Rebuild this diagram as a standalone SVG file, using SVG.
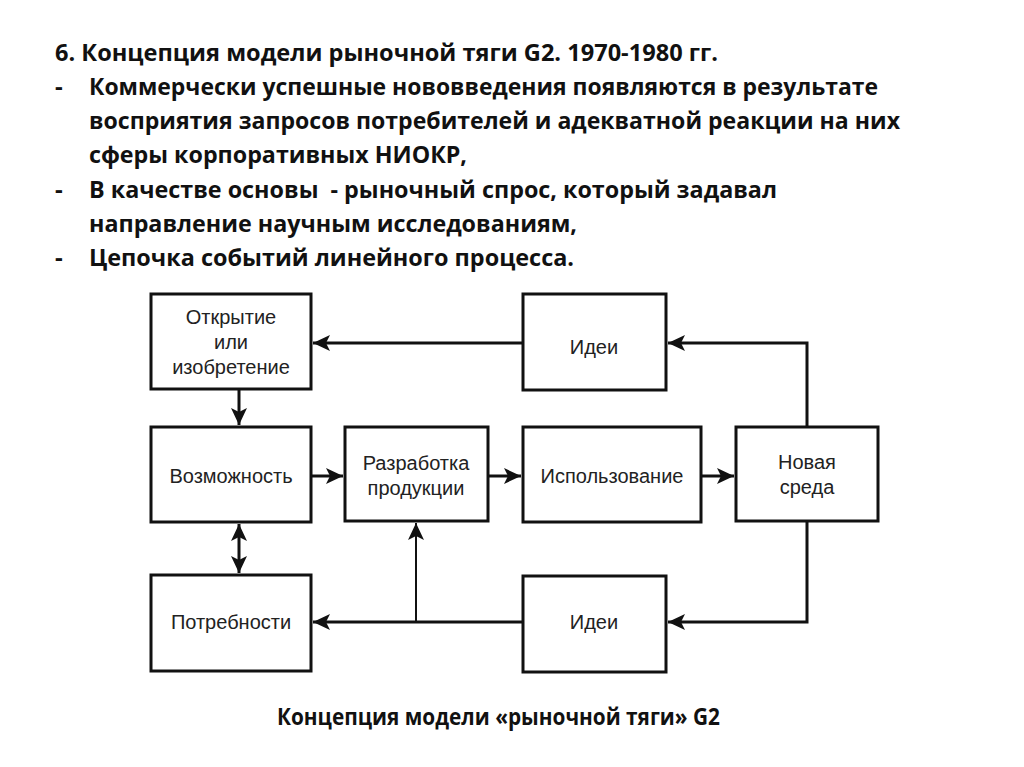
<svg xmlns="http://www.w3.org/2000/svg" width="1024" height="767" viewBox="0 0 1024 767">
<style>
.h{font-family:"Open Sans","Liberation Sans",sans-serif;font-weight:bold;font-size:24px;fill:#111}
.box{fill:#fff;stroke:#111;stroke-width:3}
.t{font-family:"Liberation Sans",Arial,sans-serif;font-size:20px;fill:#222;text-anchor:middle}
.c{fill:none;stroke:#111;stroke-width:3}
.thin{fill:none;stroke:#111;stroke-width:2}
</style>
<defs>
<marker id="ah" markerUnits="userSpaceOnUse" markerWidth="18" markerHeight="18" viewBox="0 0 18 18" refX="17" refY="9" orient="auto">
<path d="M0,1 L17,9 L0,17 L4,9 Z" fill="#111"/>
</marker>
<marker id="as" markerUnits="userSpaceOnUse" markerWidth="18" markerHeight="18" viewBox="0 0 18 18" refX="1" refY="9" orient="auto">
<path d="M18,1 L1,9 L18,17 L14,9 Z" fill="#111"/>
</marker>
</defs>
<rect width="1024" height="767" fill="#fff"/>
<g id="heading">
<text class="h" x="55" y="61" textLength="663" lengthAdjust="spacingAndGlyphs">6. Концепция модели рыночной тяги G2. 1970-1980 гг.</text>
<text class="h" x="55" y="95">-</text>
<text class="h" x="89" y="95" textLength="789" lengthAdjust="spacingAndGlyphs">Коммерчески успешные нововведения появляются в результате</text>
<text class="h" x="89" y="129" textLength="811" lengthAdjust="spacingAndGlyphs">восприятия запросов потребителей и адекватной реакции на них</text>
<text class="h" x="89" y="163" textLength="378" lengthAdjust="spacingAndGlyphs">сферы корпоративных НИОКР,</text>
<text class="h" x="55" y="198">-</text>
<text class="h" x="89" y="198" textLength="688" lengthAdjust="spacingAndGlyphs" xml:space="preserve">В качестве основы  - рыночный спрос, который задавал</text>
<text class="h" x="89" y="232" textLength="488" lengthAdjust="spacingAndGlyphs">направление научным исследованиям,</text>
<text class="h" x="55" y="266">-</text>
<text class="h" x="89" y="266" textLength="485" lengthAdjust="spacingAndGlyphs">Цепочка событий линейного процесса.</text>
</g>
<g id="connectors">
<line class="c" x1="523" y1="343" x2="313" y2="343" marker-end="url(#ah)"/>
<polyline class="c" points="807,427 807,343 668,343" marker-end="url(#ah)"/>
<line class="c" x1="239" y1="389" x2="239" y2="425" marker-end="url(#ah)"/>
<line class="c" x1="311" y1="476" x2="343" y2="476" marker-end="url(#ah)"/>
<line class="c" x1="488" y1="476" x2="521" y2="476" marker-end="url(#ah)"/>
<line class="c" x1="701" y1="476" x2="734" y2="476" marker-end="url(#ah)"/>
<line class="c" x1="239" y1="524" x2="239" y2="573" marker-start="url(#as)" marker-end="url(#ah)"/>
<polyline class="c" points="807,521 807,622 668,622" marker-end="url(#ah)"/>
<line class="c" x1="523" y1="622" x2="313" y2="622" marker-end="url(#ah)"/>
<line class="thin" x1="416" y1="622" x2="416" y2="523" marker-end="url(#ah)"/>
</g>
<g id="n-otkrytie">
<rect class="box" x="151" y="294" width="160" height="95"/>
<text class="t" x="231" y="324">Открытие</text>
<text class="t" x="231" y="349">или</text>
<text class="t" x="231" y="374">изобретение</text>
</g>
<g id="n-idei-top">
<rect class="box" x="523" y="294" width="143" height="96"/>
<text class="t" x="594" y="354">Идеи</text>
</g>
<g id="n-vozmozhnost">
<rect class="box" x="151" y="427" width="160" height="95"/>
<text class="t" x="231" y="483">Возможность</text>
</g>
<g id="n-razrabotka">
<rect class="box" x="345" y="427" width="143" height="94"/>
<text class="t" x="416" y="470">Разработка</text>
<text class="t" x="416" y="495">продукции</text>
</g>
<g id="n-ispolzovanie">
<rect class="box" x="523" y="427" width="178" height="95"/>
<text class="t" x="612" y="483">Использование</text>
</g>
<g id="n-novaya">
<rect class="box" x="736" y="427" width="142" height="94"/>
<text class="t" x="807" y="469">Новая</text>
<text class="t" x="807" y="494">среда</text>
</g>
<g id="n-potrebnosti">
<rect class="box" x="151" y="575" width="160" height="96"/>
<text class="t" x="231" y="629">Потребности</text>
</g>
<g id="n-idei-bottom">
<rect class="box" x="523" y="576" width="143" height="96"/>
<text class="t" x="594" y="629">Идеи</text>
</g>
<g id="caption">
<text class="h" x="277" y="725" textLength="443" lengthAdjust="spacingAndGlyphs">Концепция модели «рыночной тяги» G2</text>
</g>
</svg>
